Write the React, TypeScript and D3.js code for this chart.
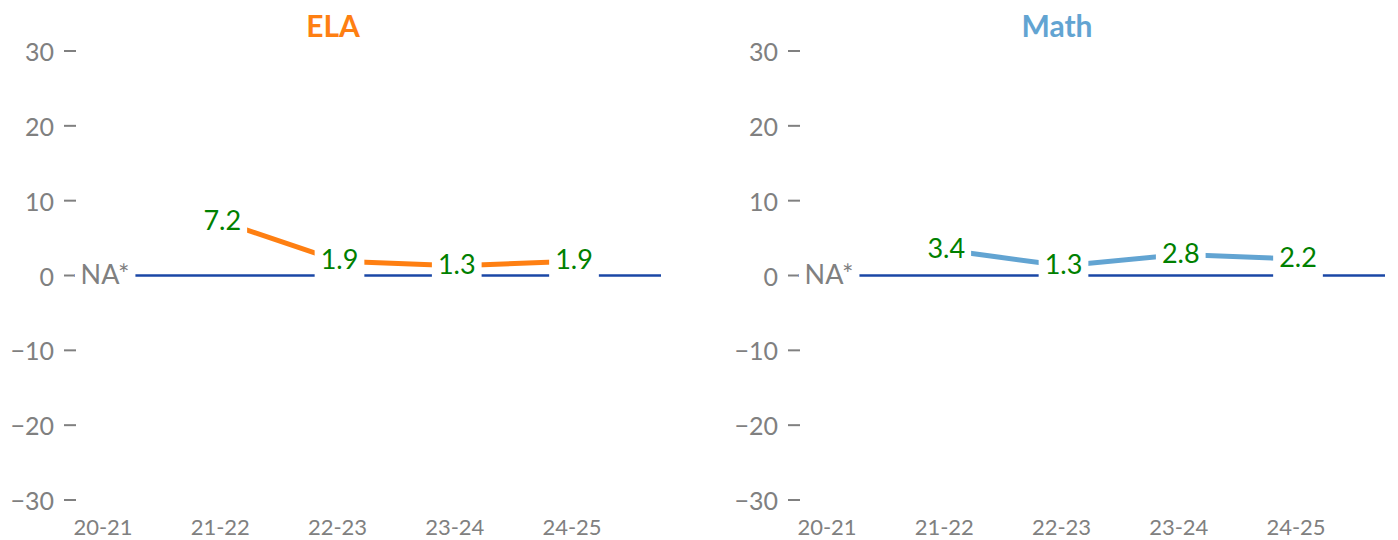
import React, { useEffect, useRef } from 'react';
import * as d3 from 'd3';

const years = ['20-21', '21-22', '22-23', '23-24', '24-25'];
const elaValues: (number | null)[] = [null, 7.2, 1.9, 1.3, 1.9];
const mathValues: (number | null)[] = [null, 3.4, 1.3, 2.8, 2.2];
const yTicks = [-30, -20, -10, 0, 10, 20, 30];
const subjects = ['ELA', 'Math'];
const subjectColors = ['#fe7f12', '#62a4d2'];

const FONT = 'Lato, "Open Sans", sans-serif';
const GRAY = '#808080';

export default function App() {
  const ref = useRef<SVGSVGElement>(null);

  useEffect(() => {
    const svg = d3.select(ref.current);
    svg.selectAll('*').remove();

    const y = d3.scaleLinear().domain([-30, 30]).range([500, 51]);
    const x = d3.scalePoint<string>().domain(years).range([105, 574]);
    const fmt = d3.format('d');

    [elaValues, mathValues].forEach((values, p) => {
      const g = svg.append('g').attr('transform', `translate(${p * 724},0)`);
      const color = subjectColors[p];

      // title
      g.append('text')
        .attr('x', 333)
        .attr('y', 37)
        .attr('text-anchor', 'middle')
        .attr('font-family', FONT)
        .attr('font-weight', 700)
        .attr('font-size', 30)
        .attr('fill', color)
        .text(subjects[p]);

      // y axis ticks
      yTicks.forEach((t) => {
        g.append('line')
          .attr('x1', 64)
          .attr('x2', 76)
          .attr('y1', y(t))
          .attr('y2', y(t))
          .attr('stroke', GRAY)
          .attr('stroke-width', 2);
        g.append('text')
          .attr('x', 54)
          .attr('y', y(t) + 10)
          .attr('text-anchor', 'end')
          .attr('font-family', FONT)
          .attr('font-size', 25)
          .attr('fill', GRAY)
          .text(fmt(t));
      });

      // x labels
      years.forEach((c) => {
        g.append('text')
          .attr('x', (x(c) as number) - 2)
          .attr('y', 535)
          .attr('text-anchor', 'middle')
          .attr('font-family', FONT)
          .attr('font-size', 22)
          .attr('fill', GRAY)
          .text(c);
      });

      // zero line
      g.append('line')
        .attr('x1', 74)
        .attr('x2', 661)
        .attr('y1', y(0))
        .attr('y2', y(0))
        .attr('stroke', '#1a47a6')
        .attr('stroke-width', 2.5);

      // series line
      const pts = years
        .map((c, i) => ({ c, v: values[i] }))
        .filter((d) => d.v !== null) as { c: string; v: number }[];
      const line = d3
        .line<{ c: string; v: number }>()
        .x((d) => x(d.c) as number)
        .y((d) => y(d.v));
      g.append('path')
        .attr('d', line(pts))
        .attr('fill', 'none')
        .attr('stroke', color)
        .attr('stroke-width', 5);

      // point labels with white boxes that cut the lines
      years.forEach((c, i) => {
        const v = values[i];
        const px = x(c) as number;
        const py = y(v === null ? 0 : v);
        const lg = g.append('g');
        const rect = lg.append('rect').attr('fill', '#fff');
        const txt = lg
          .append('text')
          .attr('x', px)
          .attr('y', py + 8)
          .attr('text-anchor', 'middle')
          .attr('font-family', FONT)
          .attr('font-size', 27)
          .attr('fill', v === null ? GRAY : '#008000')
          .text(v === null ? 'NA*' : v.toFixed(1));
        const w = (txt.node() as SVGTextElement).getComputedTextLength();
        rect
          .attr('x', px - w / 2 - 6)
          .attr('width', w + 12)
          .attr('y', py - 24)
          .attr('height', 42);
      });
    });
  }, []);

  return (
    <svg
      ref={ref}
      width={1398}
      height={540}
      style={{ position: 'absolute', left: 0, top: 0, background: '#fff' }}
    />
  );
}
